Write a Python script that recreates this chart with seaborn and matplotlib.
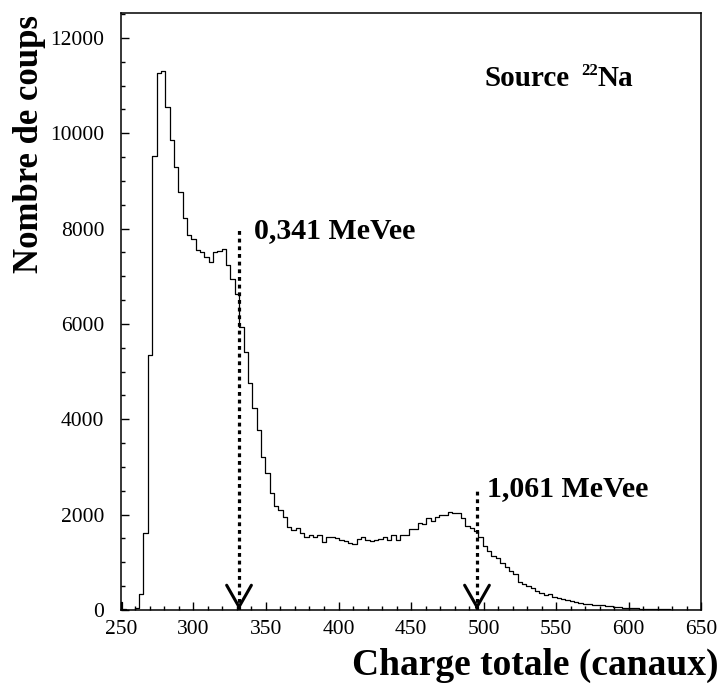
import numpy as np
import pandas as pd
import matplotlib.pyplot as plt
from matplotlib.ticker import MultipleLocator
import seaborn as sns


sns.set_style('ticks')
plt.rcParams['font.family'] = ['Liberation Serif', 'DejaVu Serif']
plt.rcParams['text.color'] = 'black'
plt.rcParams['xtick.color'] = 'black'
plt.rcParams['ytick.color'] = 'black'

# spectre en charge totale (source 22Na), contenu des canaux
bin_width = 3
first_edge = 247.5
counts = [160, 15, 5, 10, 40, 340, 1620, 5350, 9530, 11270, 11300,
          10550, 9850, 9300, 8760, 8220, 7870, 7780, 7550, 7520, 7410,
          7310, 7500, 7530, 7570, 7240, 6940, 6630,
          5930, 5420, 4760, 4230, 3780, 3200, 2880, 2460,
          2180, 2100, 1960, 1750, 1680, 1720, 1620, 1540, 1565, 1540,
          1565, 1430, 1525, 1525, 1510, 1470, 1440, 1410, 1385, 1480,
          1525, 1470, 1440, 1470, 1495, 1540, 1470, 1565, 1470, 1565,
          1565, 1690, 1705, 1830, 1805, 1930, 1875, 1960, 2000, 1985,
          2055, 2030, 2030, 1930, 1760, 1720, 1650, 1525,
          1345, 1245, 1140, 1090, 990, 905, 820, 755, 597, 550,
          505, 454, 405, 363, 315, 336, 266, 245, 224, 210,
          189, 161, 154, 133, 119, 112, 98, 112, 84, 84,
          63, 56, 49, 42, 35, 35, 28, 28, 21, 21,
          14, 14, 12, 10, 10, 8, 8, 6, 5, 5, 4]

edges = first_edge + bin_width * np.arange(len(counts) + 1)
centers = edges[:-1] + bin_width / 2
df = pd.DataFrame({'canal': centers, 'coups': counts})

# fleches des fronts Compton
arrow_x = [331.4, 495.5]
arrow_top = [8000, 2500]
arrow_labels = ['0,341 MeVee', '1,061 MeVee']
label_pos = [(341.7, 7798), (502.2, 2392)]


fig = plt.figure(figsize=(7.21, 6.84), dpi=100)
ax = fig.add_axes([0.1678, 0.1082, 0.8045, 0.8732])

sns.histplot(data=df, x='canal', weights='coups', bins=list(edges),
             element='step', fill=False, color='black', linewidth=0.9, ax=ax)

for x, top, lab, pos in zip(arrow_x, arrow_top, arrow_labels, label_pos):
    ax.vlines(x, 0, top, colors='black', linestyles=[(0, (1.2, 1.2))],
              linewidth=2.3)
    ax.annotate('', xy=(x, 0), xytext=(x, 60),
                arrowprops=dict(arrowstyle='->,head_length=1.56,head_width=0.89',
                                mutation_scale=10, lw=2.2, color='black',
                                shrinkA=0, shrinkB=0),
                annotation_clip=False)
    ax.text(pos[0], pos[1], lab, fontsize=21.5, fontweight='bold',
            va='baseline', ha='left')

ax.text(501, 11000, 'Source', fontsize=21, fontweight='bold', va='baseline')
ax.text(567.7, 11224, '22', fontsize=12, fontweight='bold', va='baseline')
ax.text(578.5, 11000, 'Na', fontsize=21, fontweight='bold', va='baseline')

ax.set_xlim(250, 650)
ax.set_ylim(0, 12530)
ax.set_xticks(np.arange(250, 651, 50))
ax.set_yticks(np.arange(0, 12001, 2000))
ax.xaxis.set_minor_locator(MultipleLocator(10))
ax.yaxis.set_minor_locator(MultipleLocator(500))
ax.tick_params(which='both', direction='in', top=False, right=False,
               width=1, labelsize=15.5, color='black', labelcolor='black')
ax.tick_params(which='major', length=5.8)
ax.tick_params(which='minor', length=2.9)
ax.tick_params(axis='x', pad=7)
ax.tick_params(axis='y', pad=12)
for s in ax.spines.values():
    s.set_visible(True)
    s.set_linewidth(1.1)
    s.set_color('black')

ax.set_xlabel('')
ax.set_ylabel('')
fig.text(29 / 721, 1 - 15 / 684, 'Nombre de coups', rotation=90,
         ha='center', va='top', fontsize=25, fontweight='bold')
fig.text(718 / 721, 9 / 684, 'Charge totale (canaux)', ha='right',
         va='baseline', fontsize=27, fontweight='bold')

fig.savefig('out.png', dpi=100)
